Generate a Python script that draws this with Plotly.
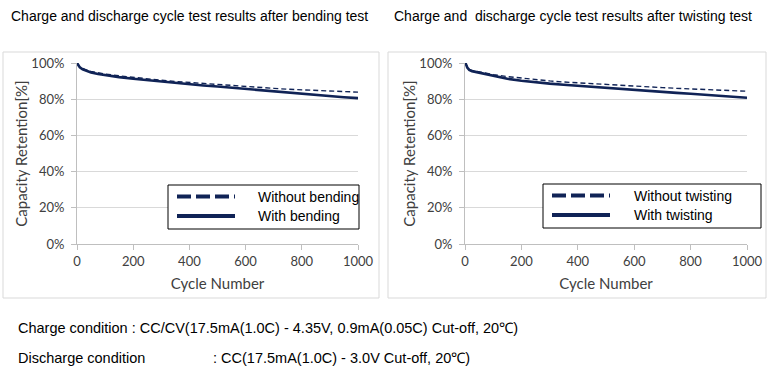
import plotly.graph_objects as go

W, H = 770, 380

# ---- data ----
cycles_bend = [0, 5, 10, 20, 30, 50, 75, 100, 150, 200, 250, 300, 350, 400, 450, 500,
               550, 600, 650, 700, 750, 800, 850, 900, 950, 1000]
with_bending = [100, 98.5, 97.6, 96.5, 95.8, 94.8, 93.9, 93.2, 92.2, 91.3, 90.5, 89.8, 89.0,
                88.3, 87.6, 87.0, 86.3, 85.6, 84.9, 84.2, 83.5, 82.8, 82.2, 81.6, 81.1, 80.6]
without_bending = [100, 98.8, 98.0, 97.0, 96.3, 95.4, 94.6, 93.9, 92.9, 92.0, 91.2, 90.5, 89.8,
                   89.2, 88.6, 88.0, 87.5, 87.0, 86.5, 86.0, 85.5, 85.1, 84.7, 84.4, 84.1, 83.9]

cycles_twist = [0, 3, 8, 15, 25, 40, 60, 80, 100, 150, 200, 250, 300, 350, 400, 450, 500,
                550, 600, 650, 700, 750, 800, 850, 900, 950, 1000]
with_twisting = [100, 99.5, 97.5, 96.2, 95.5, 95.0, 94.3, 93.5, 92.8, 91.3, 90.2, 89.3, 88.6,
                 88.0, 87.4, 86.8, 86.3, 85.8, 85.3, 84.7, 84.1, 83.5, 83.0, 82.5, 81.9, 81.3, 80.8]
without_twisting = [100, 99.6, 97.8, 96.5, 95.8, 95.3, 94.8, 94.2, 93.6, 92.5, 91.6, 90.8, 90.1,
                    89.5, 89.0, 88.5, 88.0, 87.6, 87.2, 86.8, 86.4, 86.0, 85.6, 85.3, 85.0, 84.7, 84.4]

x_ticks = [0, 200, 400, 600, 800, 1000]
y_ticks = [0, 20, 40, 60, 80, 100]
y_tick_labels = ["0%", "20%", "40%", "60%", "80%", "100%"]

titles = ["Charge and discharge cycle test results after bending test",
          "Charge and  discharge cycle test results after twisting test"]
legend_labels = [["Without bending", "With bending"], ["Without twisting", "With twisting"]]
x_title = "Cycle Number"
y_title = "Capacity Retention[%]"
charge_text = "Charge condition : CC/CV(17.5mA(1.0C) - 4.35V, 0.9mA(0.05C) Cut-off, 20\u2103)"
discharge_label = "Discharge condition"
discharge_text = ": CC(17.5mA(1.0C) - 3.0V Cut-off, 20\u2103)"

NAVY = "#102356"
GRID = "#d9d9d9"
AXIS = "#bfbfbf"
TICKC = "#404040"
TFONT = "Lato"
SFONT = "Liberation Sans, Arial"

def px(x):
    return x / W

def py(y):
    return 1 - y / H

fig = go.Figure()

fig.add_trace(go.Scatter(x=cycles_bend, y=without_bending, mode="lines",
                         line=dict(color=NAVY, width=1.4, dash="5px,3px"),
                         xaxis="x", yaxis="y", showlegend=False))
fig.add_trace(go.Scatter(x=cycles_bend, y=with_bending, mode="lines",
                         line=dict(color=NAVY, width=2.6),
                         xaxis="x", yaxis="y", showlegend=False))
fig.add_trace(go.Scatter(x=cycles_twist, y=without_twisting, mode="lines",
                         line=dict(color=NAVY, width=1.4, dash="5px,3px"),
                         xaxis="x2", yaxis="y2", showlegend=False))
fig.add_trace(go.Scatter(x=cycles_twist, y=with_twisting, mode="lines",
                         line=dict(color=NAVY, width=2.6),
                         xaxis="x2", yaxis="y2", showlegend=False))

ydom = [py(244), py(63)]
xdoms = [[px(77), px(358)], [px(465), px(747)]]

def xaxis_cfg(dom, anchor):
    return dict(domain=dom, anchor=anchor, range=[0, 1000], tickvals=x_ticks,
                showgrid=False, zeroline=False, showline=True, linecolor=AXIS, linewidth=1,
                ticks="outside", ticklen=5, tickcolor=AXIS, automargin=False,
                tickfont=dict(family=TFONT, size=13, color=TICKC),
                title=dict(text=x_title, font=dict(family=TFONT, size=15, color=TICKC), standoff=10))

def yaxis_cfg(anchor):
    return dict(domain=ydom, anchor=anchor, range=[0, 100], tickvals=y_ticks,
                ticktext=y_tick_labels,
                showgrid=True, gridcolor=GRID, gridwidth=1, zeroline=False,
                showline=True, linecolor=AXIS, linewidth=1,
                ticks="outside", ticklen=5, tickcolor=AXIS, automargin=False,
                ticklabelstandoff=4,
                tickfont=dict(family=TFONT, size=13, color=TICKC),
                title=dict(text=y_title, font=dict(family=TFONT, size=15, color=TICKC), standoff=0))

shapes = []
annotations = []

# panel borders
for (x0, x1) in [(3, 379), (388, 766)]:
    shapes.append(dict(type="rect", xref="paper", yref="paper",
                       x0=px(x0), x1=px(x1), y0=py(298), y1=py(52),
                       line=dict(color=GRID, width=1), fillcolor="rgba(0,0,0,0)", layer="below"))

# titles
for tx, t in zip([9, 392], titles):
    annotations.append(dict(text=t, xref="paper", yref="paper", x=px(tx), y=py(16),
                            xanchor="left", yanchor="middle", showarrow=False,
                            font=dict(family=SFONT, size=14, color="#000")))

# legends
leg_boxes = [(168, 359, 185, 229, 177, 235, 256), (543, 761, 184, 228, 552, 610, 632)]
for (bx0, bx1, by0, by1, lx0, lx1, tx), labels in zip(leg_boxes, legend_labels):
    shapes.append(dict(type="rect", xref="paper", yref="paper",
                       x0=px(bx0), x1=px(bx1), y0=py(by1), y1=py(by0),
                       line=dict(color="#000", width=1), fillcolor="white"))
    ly = [by0 + 11.5, by0 + 31]
    shapes.append(dict(type="line", xref="paper", yref="paper",
                       x0=px(lx0), x1=px(lx1), y0=py(ly[0]), y1=py(ly[0]),
                       line=dict(color=NAVY, width=4, dash="14px,5px")))
    shapes.append(dict(type="line", xref="paper", yref="paper",
                       x0=px(lx0), x1=px(lx1), y0=py(ly[1]), y1=py(ly[1]),
                       line=dict(color=NAVY, width=4)))
    for yy, lab in zip(ly, labels):
        annotations.append(dict(text=lab, xref="paper", yref="paper", x=px(tx), y=py(yy),
                                xanchor="left", yanchor="middle", showarrow=False,
                                font=dict(family=SFONT, size=14, color="#000")))

# bottom condition text
annotations.append(dict(text=charge_text, xref="paper", yref="paper", x=px(16), y=py(328),
                        xanchor="left", yanchor="middle", showarrow=False,
                        font=dict(family=SFONT, size=14.5, color="#000")))
annotations.append(dict(text=discharge_label, xref="paper", yref="paper", x=px(16), y=py(358),
                        xanchor="left", yanchor="middle", showarrow=False,
                        font=dict(family=SFONT, size=14.5, color="#000")))
annotations.append(dict(text=discharge_text, xref="paper", yref="paper", x=px(211), y=py(358),
                        xanchor="left", yanchor="middle", showarrow=False,
                        font=dict(family=SFONT, size=14.5, color="#000")))

fig.update_layout(
    width=W, height=H,
    margin=dict(l=0, r=0, t=0, b=0, autoexpand=False),
    paper_bgcolor="white", plot_bgcolor="white",
    xaxis=xaxis_cfg(xdoms[0], "y"),
    yaxis=yaxis_cfg("x"),
    xaxis2=xaxis_cfg(xdoms[1], "y2"),
    yaxis2=yaxis_cfg("x2"),
    shapes=shapes,
    annotations=annotations,
    showlegend=False,
)

fig.write_html("out.html",
               config={"displayModeBar": False},
               post_script="document.body.style.margin='0';document.body.style.overflow='hidden';")
